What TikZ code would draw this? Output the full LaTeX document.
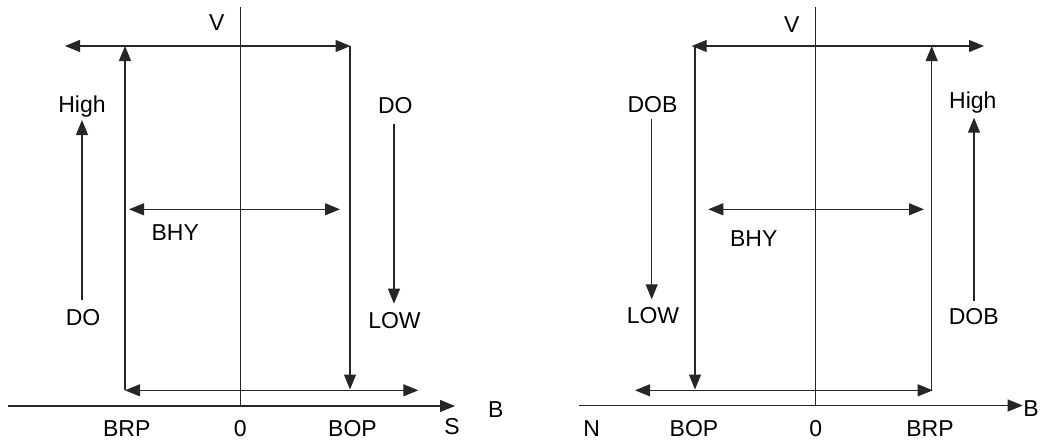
\documentclass[tikz,border=0pt]{standalone}
\usepackage{fontspec}
\setmainfont{Liberation Sans}
\usetikzlibrary{arrows.meta}
\tikzset{
  line/.style={line width=1.1pt, draw=black!85},
  tip/.style={line, -{Triangle[length=15pt,width=12pt]}},
  tips/.style={line, {Triangle[length=15pt,width=12pt]}-{Triangle[length=15pt,width=12pt]}},
  lbl/.style={anchor=base, inner sep=0pt, font=\fontsize{23}{27}\selectfont}
}
\begin{document}
\begin{tikzpicture}[x=1pt, y=-1pt]
\useasboundingbox (0,0) rectangle (1042,442);

% ---------- S pole (left) ----------
\coordinate (sVtop) at (240.3,7);
\coordinate (sVbot) at (240.3,405);
\coordinate (sAxL) at (8,406);
\coordinate (sAxR) at (455,406);
\draw[line] (sVtop) -- (sVbot);
\draw[tip] (sAxL) -- (sAxR);

\coordinate (sTopL) at (65,46);
\coordinate (sTopR) at (350.5,46);
\draw[tips] (sTopL) -- (sTopR);

\coordinate (sRpB) at (125,390);
\coordinate (sRpT) at (125,46);
\draw[tip] (sRpB) -- (sRpT);

\coordinate (sOpT) at (350,46);
\coordinate (sOpB) at (350,389.5);
\draw[tip] (sOpT) -- (sOpB);

\coordinate (sBotL) at (125,390.3);
\coordinate (sBotR) at (418.3,390.3);
\draw[tips] (sBotL) -- (sBotR);

\coordinate (sHyL) at (129,209.3);
\coordinate (sHyR) at (340,209.3);
\draw[tips] (sHyL) -- (sHyR);

\coordinate (sUpB) at (82,299.5);
\coordinate (sUpT) at (82,120);
\draw[tip] (sUpB) -- (sUpT);

\coordinate (sDnT) at (394,124);
\coordinate (sDnB) at (394,303.7);
\draw[tip] (sDnT) -- (sDnB);

\node[lbl] (sV) at (216.7,30.7) {V};
\node[lbl] (sHigh) at (82,112.3) {High};
\node[lbl] (sDOr) at (395.3,113) {DO};
\node[lbl] (sBHY) at (175.3,240.3) {BHY};
\node[lbl] (sDOl) at (83,325) {DO};
\node[lbl] (sLOW) at (394.5,328.3) {LOW};
\node[lbl] (sBRP) at (126.7,436) {BRP};
\node[lbl] (s0) at (240.3,436) {0};
\node[lbl] (sBOP) at (352.5,436) {BOP};
\node[lbl] (sS) at (452,434) {S};
\node[lbl] (sB) at (495.7,417.7) {B};

% ---------- N pole (right) ----------
\coordinate (nVtop) at (815.7,7);
\coordinate (nVbot) at (815.7,404.5);
\coordinate (nAxL) at (579.3,405.5);
\coordinate (nAxR) at (1022.7,405.5);
\draw[line] (nVtop) -- (nVbot);
\draw[tip] (nAxL) -- (nAxR);

\coordinate (nTopL) at (691.7,46);
\coordinate (nTopR) at (984,46);
\draw[tips] (nTopL) -- (nTopR);

\coordinate (nOpT) at (695,46);
\coordinate (nOpB) at (695,389.5);
\draw[tip] (nOpT) -- (nOpB);

\coordinate (nRpB) at (931.7,391);
\coordinate (nRpT) at (931.7,46);
\draw[tip] (nRpB) -- (nRpT);

\coordinate (nBotL) at (635,390.3);
\coordinate (nBotR) at (932.7,390.3);
\draw[tips] (nBotL) -- (nBotR);

\coordinate (nHyL) at (708.3,209.3);
\coordinate (nHyR) at (924,209.3);
\draw[tips] (nHyL) -- (nHyR);

\coordinate (nDnT) at (651.7,119.3);
\coordinate (nDnB) at (651.7,299.3);
\draw[tip] (nDnT) -- (nDnB);

\coordinate (nUpB) at (974,301);
\coordinate (nUpT) at (974,117.7);
\draw[tip] (nUpB) -- (nUpT);

\node[lbl] (nV) at (791.7,32) {V};
\node[lbl] (nDOBl) at (652.5,112.3) {DOB};
\node[lbl] (nHigh) at (972.8,108.3) {High};
\node[lbl] (nBHY) at (753.7,246.7) {BHY};
\node[lbl] (nLOW) at (653,323.3) {LOW};
\node[lbl] (nDOBr) at (973.7,324.3) {DOB};
\node[lbl] (nN) at (591.7,436) {N};
\node[lbl] (nBOP) at (694,436) {BOP};
\node[lbl] (n0) at (815.7,436) {0};
\node[lbl] (nBRP) at (930,436) {BRP};
\node[lbl] (nB) at (1031,416) {B};
\end{tikzpicture}
\end{document}
